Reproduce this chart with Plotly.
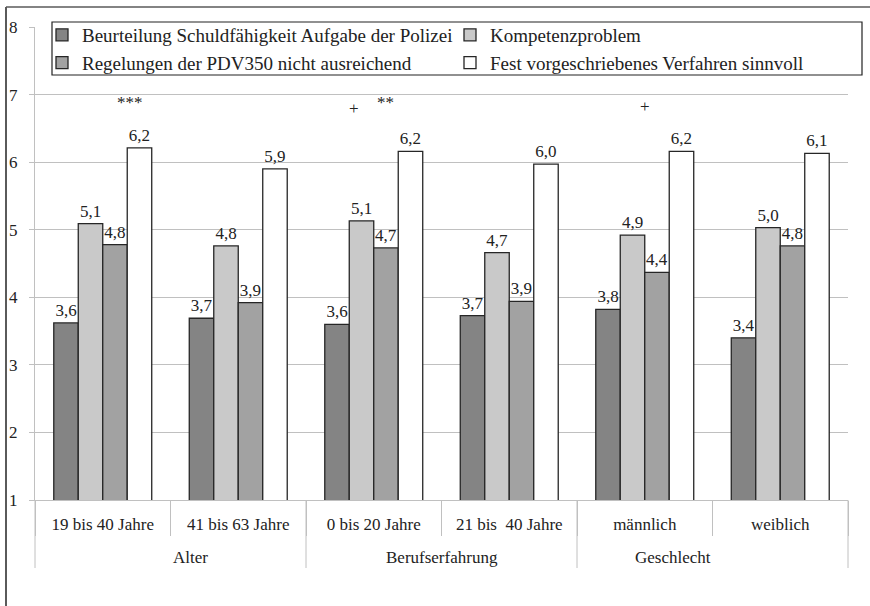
import plotly.graph_objects as go

# Untergruppen (Kategorien der x-Achse) und ihre übergeordneten Gruppen
untergruppen = ["19 bis 40 Jahre", "41 bis 63 Jahre", "0 bis 20 Jahre",
                "21 bis\u00a0 40 Jahre", "männlich", "weiblich"]
gruppen = ["Alter", "Berufserfahrung", "Geschlecht"]

# Mittelwerte je Aussage
schuldfaehigkeit = [3.62, 3.69, 3.60, 3.73, 3.82, 3.40]
kompetenzproblem = [5.09, 4.76, 5.13, 4.66, 4.92, 5.03]
pdv350 = [4.78, 3.92, 4.73, 3.94, 4.37, 4.76]
fest_verfahren = [6.21, 5.90, 6.16, 5.97, 6.16, 6.13]

serien = [
    ("Beurteilung Schuldfähigkeit Aufgabe der Polizei", schuldfaehigkeit, "#848484"),
    ("Kompetenzproblem", kompetenzproblem, "#c9c9c9"),
    ("Regelungen der PDV350 nicht ausreichend", pdv350, "#a2a2a2"),
    ("Fest vorgeschriebenes Verfahren sinnvoll", fest_verfahren, "#ffffff"),
]

# Signifikanzkennzeichnungen: (Text, x in px, y-Wert)
signifikanz = [("***", 115, 6.88), ("+", 354, 6.80), ("**", 385, 6.88), ("+", 652, 6.83)]

FONT = "Times New Roman, Liberation Serif, serif"
W, H = 870, 606
ML, MR, MT, MB = 35, 22, 27, 106
PW = W - ML - MR
PH = H - MT - MB
GRID = "#c0c0c0"
TXT = "#222222"

fig = go.Figure()
for name, vals, col in serien:
    fig.add_trace(go.Bar(
        x=untergruppen, y=vals, name=name,
        marker=dict(color=col, line=dict(color="#262626", width=1.3)),
        texttemplate="%{y:.1f}", textposition="outside",
        textfont=dict(family=FONT, size=17, color=TXT),
        constraintext="none", cliponaxis=False,
    ))


def px_x(px):
    return (px - ML) / PW


def px_y(py):
    return (H - MB - py) / PH


for txt, xpx, yv in signifikanz:
    fig.add_annotation(text=txt, xref="paper", yref="y", x=px_x(xpx), y=yv,
                       showarrow=False, font=dict(family=FONT, size=17, color=TXT))

# Gruppenbeschriftungen und Trennlinien unter der Achse
n_grp = len(gruppen)
for i, g in enumerate(gruppen):
    fig.add_annotation(text=g, xref="paper", yref="paper",
                       x=(i + 0.5) / n_grp, y=px_y(557), yanchor="middle",
                       showarrow=False, font=dict(family=FONT, size=17, color=TXT))
for i in range(n_grp + 1):
    fig.add_shape(type="line", xref="paper", yref="paper",
                  x0=i / n_grp, x1=i / n_grp, y0=0, y1=px_y(568),
                  line=dict(color=GRID, width=1))

# Legendenrahmen
fig.add_shape(type="rect", xref="paper", yref="paper",
              x0=px_x(52), x1=px_x(862), y0=px_y(75), y1=px_y(22),
              line=dict(color="#222222", width=1.2), fillcolor="white", layer="above")

# Äußerer Rahmen (links und oben)
fig.add_shape(type="line", xref="paper", yref="paper",
              x0=px_x(6), x1=px_x(6), y0=px_y(7), y1=px_y(606),
              line=dict(color="#5a5a5a", width=2))
fig.add_shape(type="line", xref="paper", yref="paper",
              x0=px_x(6), x1=px_x(870), y0=px_y(7), y1=px_y(7),
              line=dict(color="#5a5a5a", width=1.5))

fig.update_layout(
    width=W, height=H,
    margin=dict(l=ML, r=MR, t=MT, b=MB, autoexpand=False),
    paper_bgcolor="white", plot_bgcolor="white",
    font=dict(family=FONT, size=17, color=TXT),
    separators=",.",
    barmode="group", bargap=0.277, bargroupgap=0,
    showlegend=True,
    legend=dict(
        orientation="h", xref="container", yref="container",
        x=42 / W, y=1 - 16 / H, xanchor="left", yanchor="top",
        entrywidth=363, entrywidthmode="pixels",
        bgcolor="rgba(0,0,0,0)", borderwidth=0,
        font=dict(family=FONT, size=19, color=TXT),
        traceorder="normal",
    ),
    xaxis=dict(
        type="category",
        showline=True, linecolor=GRID, linewidth=1,
        ticks="outside", tickson="boundaries", ticklen=35, tickcolor=GRID,
        ticklabelstandoff=9,
        tickfont=dict(family=FONT, size=17, color=TXT),
        showgrid=False,
    ),
    yaxis=dict(
        range=[1, 8], dtick=1, tick0=1,
        showgrid=True, gridcolor=GRID, gridwidth=1,
        showline=True, linecolor=GRID, linewidth=1,
        ticks="outside", ticklen=5, tickcolor=GRID,
        ticklabelstandoff=8,
        tickfont=dict(family=FONT, size=17, color=TXT),
        zeroline=False,
    ),
)

fig.write_html("out.html")
